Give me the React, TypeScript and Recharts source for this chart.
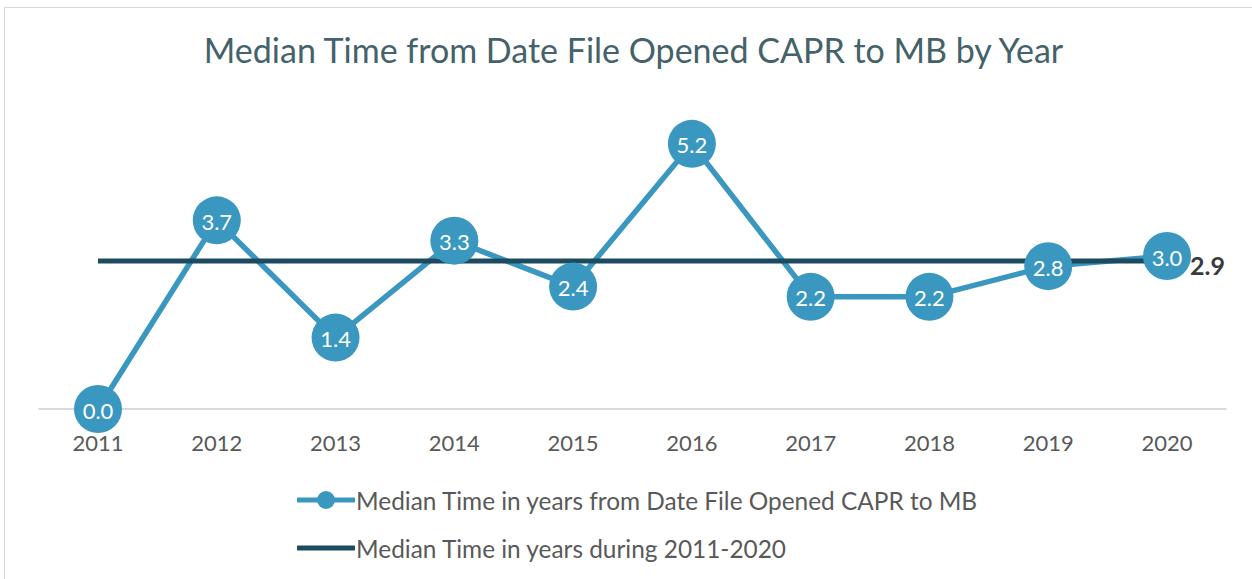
import React from "react";
import { LineChart, Line, XAxis, YAxis, LabelList } from "recharts";

const years = ["2011", "2012", "2013", "2014", "2015", "2016", "2017", "2018", "2019", "2020"];
const medianTimeValues = [0.0, 3.7, 1.4, 3.3, 2.4, 5.2, 2.2, 2.2, 2.8, 3.0];
const overallMedianValues = [2.9, 2.9, 2.9, 2.9, 2.9, 2.9, 2.9, 2.9, 2.9, 2.9];
const seriesNames = [
  "Median Time in years from Date File Opened CAPR to MB",
  "Median Time in years during 2011-2020",
];
const title = "Median Time from Date File Opened CAPR to MB by Year";

const data = years.map((y, i) => ({
  year: y,
  value: medianTimeValues[i],
  median: overallMedianValues[i],
}));

const BLUE = "#3A97C0";
const DARK = "#1C4A5E";
const FONT = "Lato, 'Open Sans', sans-serif";

const MedianEndLabel = (props: any) => {
  const { x, y, index, value } = props;
  if (index !== years.length - 1) return null;
  return (
    <text x={x + 23} y={y + 4} fill="#3a3a3a" fontSize={25} fontWeight={700} fontFamily={FONT} dominantBaseline="central">
      {Number(value).toFixed(1)}
    </text>
  );
};

const ValueLabel = (props: any) => {
  const { x, y, value } = props;
  return (
    <text x={x} y={y + 1} fill="#ffffff" fontSize={22} fontFamily={FONT} textAnchor="middle" dominantBaseline="central">
      {Number(value).toFixed(1)}
    </text>
  );
};

export default function App() {
  return (
    <div style={{ position: "absolute", left: 0, top: 0, width: 1252, height: 579, background: "#fff", fontFamily: FONT, overflow: "hidden" }}>
      <div style={{ position: "absolute", left: 4, top: 7, width: 1260, height: 590, border: "1.5px solid #d9d9d9", boxSizing: "border-box" }} />
      <div style={{ position: "absolute", left: 0, top: 29, width: 1267, textAlign: "center", fontSize: 34, color: "#44626A", fontFamily: FONT }}>
        {title}
      </div>
      <div style={{ position: "absolute", left: 0, top: 0 }}>
        <LineChart width={1252} height={579} data={data} margin={{ top: 103, right: 25.6, bottom: 140, left: 38.6 }}>
          <XAxis
            dataKey="year"
            axisLine={{ stroke: "#d9d9d9", strokeWidth: 2 }}
            tickLine={false}
            tick={{ fill: "#595959", fontSize: 22, fontFamily: FONT }}
            tickMargin={20}
            interval={0}
            padding={{ left: 59.4, right: 59.4 }}
          />
          <YAxis hide domain={[0, 6]} />
          <Line
            dataKey="value"
            stroke={BLUE}
            strokeWidth={5.5}
            dot={{ r: 24, fill: BLUE, stroke: "none" }}
            isAnimationActive={false}
          />
          <Line
            dataKey="median"
            stroke={DARK}
            strokeWidth={5}
            dot={false}
            isAnimationActive={false}
          >
            <LabelList dataKey="median" content={MedianEndLabel} />
          </Line>
          <Line dataKey="value" stroke="none" dot={false} isAnimationActive={false}>
            <LabelList dataKey="value" content={ValueLabel} />
          </Line>
        </LineChart>
      </div>
      <div style={{ position: "absolute", left: 297, top: 486, display: "flex", alignItems: "center", height: 28 }}>
        <svg width={58} height={28}>
          <line x1={1} y1={14} x2={57} y2={14} stroke={BLUE} strokeWidth={5} strokeLinecap="round" />
          <circle cx={29} cy={14} r={9} fill={BLUE} />
        </svg>
        <span style={{ fontSize: 24.4, color: "#595959", marginLeft: 1 }}>{seriesNames[0]}</span>
      </div>
      <div style={{ position: "absolute", left: 297, top: 534, display: "flex", alignItems: "center", height: 28 }}>
        <svg width={58} height={28}>
          <line x1={1} y1={14} x2={57} y2={14} stroke={DARK} strokeWidth={5} strokeLinecap="round" />
        </svg>
        <span style={{ fontSize: 24.4, color: "#595959", marginLeft: 1 }}>{seriesNames[1]}</span>
      </div>
    </div>
  );
}
